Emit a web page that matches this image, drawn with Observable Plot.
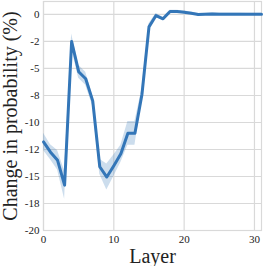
<!DOCTYPE html>
<html>
<head>
<meta charset="utf-8">
<script src="https://cdn.jsdelivr.net/npm/d3@7"></script>
<script src="https://cdn.jsdelivr.net/npm/@observablehq/plot@0.6"></script>
<style>
  html, body { margin: 0; padding: 0; background: #fff; }
  #chart svg { display: block; }
  #chart svg text { font-family: 'Liberation Serif', 'Times New Roman', serif !important; }
</style>
</head>
<body>
<div id="chart"></div>
<script>
const layers = [0,1,2,3,4,5,6,7,8,9,10,11,12,13,14,15,16,17,18,19,20,21,22,23,24,25,26,27,28,29,30,31];
const meanChange = [-11.8,-12.75,-13.5,-15.8,-2.5,-5.3,-5.95,-8.0,-14.1,-15.05,-14.0,-12.9,-11.0,-11.0,-7.4,-1.15,-0.1,-0.4,0.28,0.28,0.21,0.12,0.0,0.02,0.05,0.03,0.03,0.03,0.03,0.02,0.02,0.02];
const lowerBound = [-12.6,-13.45,-14.4,-17.1,-3.2,-5.9,-6.55,-8.5,-14.8,-16.25,-15.0,-13.7,-12.1,-12.1,-7.9,-1.45,-0.28,-0.55,0.16,0.18,0.11,0.02,-0.1,-0.08,-0.05,-0.07,-0.07,-0.07,-0.07,-0.08,-0.08,-0.08];
const upperBound = [-11.0,-12.05,-12.6,-14.5,-1.8,-4.7,-5.35,-7.5,-13.4,-13.85,-13.0,-12.1,-9.9,-9.9,-6.9,-0.85,0.08,-0.25,0.4,0.38,0.31,0.22,0.1,0.12,0.15,0.13,0.13,0.13,0.13,0.12,0.12,0.12];
const yTickValues = [0,-2.5,-5,-7.5,-10,-12.5,-15,-17.5,-20];
const yTickLabels = ["0","-2","-5","-8","-10","-12","-15","-18","-20"];
const xTickValues = [0,10,20,30];

const data = layers.map((l, i) => ({layer: l, mean: meanChange[i], lo: lowerBound[i], hi: upperBound[i]}));
const lineColor = "#3376b8";

const chart = Plot.plot({
  width: 266,
  height: 266,
  marginLeft: 43,
  marginRight: 5,
  marginTop: 1,
  marginBottom: 36,
  style: {fontFamily: "'Liberation Serif', 'Times New Roman', serif", fontSize: "11px", color: "#222", background: "#fff"},
  x: {domain: [0, 31], ticks: xTickValues, tickSize: 0, tickPadding: 5, label: "Layer", labelAnchor: "center", labelArrow: "none", labelOffset: 32},
  y: {domain: [-20, 1.2], ticks: yTickValues, tickFormat: (d) => yTickLabels[yTickValues.indexOf(d)], tickSize: 0, tickPadding: 4, label: "Change in probability (%)", labelAnchor: "center", labelArrow: "none", labelOffset: 41},
  marks: [
    Plot.gridX(xTickValues, {stroke: "#d9d9d9", strokeOpacity: 1, strokeWidth: 1.2}),
    Plot.gridY(yTickValues, {stroke: "#d9d9d9", strokeOpacity: 1, strokeWidth: 1.2}),
    Plot.frame({stroke: "#d9d9d9", strokeWidth: 1.2}),
    Plot.areaY(data, {x: "layer", y1: "lo", y2: "hi", fill: lineColor, fillOpacity: 0.25}),
    Plot.lineY(data, {x: "layer", y: "mean", stroke: lineColor, strokeWidth: 3, strokeLinejoin: "round"})
  ]
});
chart.querySelectorAll('[aria-label="x-axis label"] text, [aria-label="y-axis label"] text').forEach(t => t.setAttribute("font-size", "20px"));
document.getElementById("chart").appendChild(chart);
</script>
</body>
</html>
